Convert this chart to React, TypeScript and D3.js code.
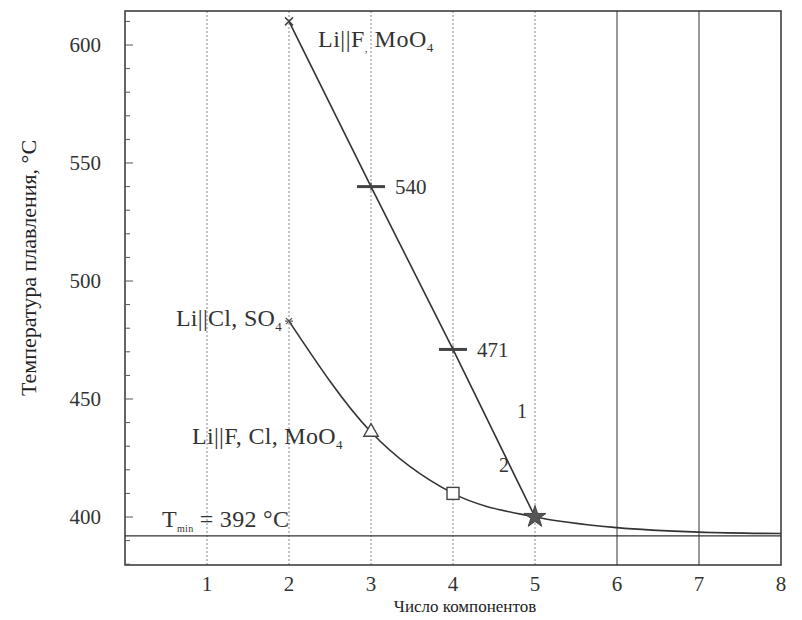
import React from "react";
import * as d3 from "d3";

const xTicks = [1, 2, 3, 4, 5, 6, 7, 8];
const yTicks = [400, 450, 500, 550, 600];
const line1X = [2, 3, 4, 5];
const line1Y = [610, 540, 471, 400];
const line2X = [2, 3, 4, 5, 6, 7, 8];
const line2Y = [483, 436, 410, 400, 395.5, 393.6, 393];
const tMin = 392;

const W = 802, H = 620;
const L = 125, R = 781, T = 11, B = 565;
const x = d3.scaleLinear().domain([0, 8]).range([L, R]);
const y = d3.scaleLinear().domain([400, 600]).range([517, 45]);

const font = "'Liberation Serif', 'Times New Roman', serif";

export default function App() {
  const l1 = d3.line<number>().x((_, i) => x(line1X[i])).y((v) => y(v))(line1Y) || "";
  const l2 = d3
    .line<number>()
    .x((_, i) => x(line2X[i]))
    .y((v) => y(v))
    .curve(d3.curveMonotoneX)(line2Y) || "";
  const minorTicks = d3.range(380, 616, 10);
  const star = d3.symbol().type(d3.symbolStar).size(150)() || "";
  const tri = d3.symbol().type(d3.symbolTriangle).size(90)() || "";
  return (
    <svg width={W} height={H} style={{ display: "block", position: "absolute", left: 0, top: 0 }} fontFamily={font}>
      <rect x={0} y={0} width={W} height={H} fill="#ffffff" />
      {xTicks.slice(0, 5).map((t) => (
        <line key={"g" + t} x1={x(t)} x2={x(t)} y1={T} y2={B} stroke="#888" strokeWidth={1} strokeDasharray="2,2" />
      ))}
      {xTicks.slice(5, 7).map((t) => (
        <line key={"s" + t} x1={x(t)} x2={x(t)} y1={T} y2={B} stroke="#333" strokeWidth={1} />
      ))}
      <line x1={L} x2={R} y1={y(tMin)} y2={y(tMin)} stroke="#333" strokeWidth={1.2} />
      <rect x={L} y={T} width={R - L} height={B - T} fill="none" stroke="#333" strokeWidth={1.5} />
      {minorTicks.map((t) => (
        <line key={"m" + t} x1={L} x2={L + (t % 50 === 0 ? 8 : 5)} y1={y(t)} y2={y(t)} stroke="#555" strokeWidth={1} />
      ))}
      {yTicks.map((t) => (
        <text key={"y" + t} x={L - 24} y={y(t)} dy="0.35em" textAnchor="end" fontSize={21} fill="#333">
          {t}
        </text>
      ))}
      {xTicks.map((t) => (
        <text key={"x" + t} x={x(t)} y={B + 26} textAnchor="middle" fontSize={21} fill="#333">
          {t}
        </text>
      ))}
      <text x={465} y={612} textAnchor="middle" fontSize={17} fill="#222">
        Число компонентов
      </text>
      <text transform={`translate(36,268) rotate(-90)`} textAnchor="middle" fontSize={22} fill="#222">
        Температура плавления, °С
      </text>
      <path d={l1} fill="none" stroke="#333" strokeWidth={1.6} />
      <path d={l2} fill="none" stroke="#333" strokeWidth={1.6} />
      <g stroke="#444" strokeWidth={1.5}>
        <line x1={x(2) - 4} x2={x(2) + 4} y1={y(610) - 4} y2={y(610) + 4} />
        <line x1={x(2) - 4} x2={x(2) + 4} y1={y(610) + 4} y2={y(610) - 4} />
      </g>
      {[1, 2].map((i) => (
        <g key={"p" + i} stroke="#444">
          <line x1={x(line1X[i]) - 14} x2={x(line1X[i]) + 14} y1={y(line1Y[i])} y2={y(line1Y[i])} strokeWidth={3} />
          <line x1={x(line1X[i])} x2={x(line1X[i])} y1={y(line1Y[i]) - 4} y2={y(line1Y[i]) + 4} strokeWidth={1.2} />
        </g>
      ))}
      <text x={x(3) + 24} y={y(540)} dy="0.35em" fontSize={21} fill="#333">540</text>
      <text x={x(4) + 24} y={y(471)} dy="0.35em" fontSize={21} fill="#333">471</text>
      <g stroke="#555" strokeWidth={1.2}>
        <line x1={x(2) - 3} x2={x(2) + 3} y1={y(483) - 3} y2={y(483) + 3} />
        <line x1={x(2) - 3} x2={x(2) + 3} y1={y(483) + 3} y2={y(483) - 3} />
        <line x1={x(2) - 4} x2={x(2) + 4} y1={y(483)} y2={y(483)} />
      </g>
      <path d={tri} transform={`translate(${x(3)},${y(436)})`} fill="#fff" stroke="#444" strokeWidth={1.4} />
      <rect x={x(4) - 6} y={y(410) - 6} width={12} height={12} fill="#fff" stroke="#444" strokeWidth={1.4} />
      <path d={star} transform={`translate(${x(5)},${y(400)})`} fill="#555" stroke="#444" strokeWidth={1} />
      <text x={318} y={47} fontSize={24} fill="#333" letterSpacing={0.5}>
        Li||F<tspan fontSize={11} dy={5}>,</tspan><tspan dy={-5}> MoO</tspan><tspan fontSize={13} dy={5}>4</tspan>
      </text>
      <text x={x(2) - 7} y={326} textAnchor="end" fontSize={24} fill="#333" letterSpacing={0.3}>
        Li||Cl, SO<tspan fontSize={13} dy={5}>4</tspan>
      </text>
      <text x={192} y={444} fontSize={24} fill="#333" letterSpacing={0.3}>
        Li||F, Cl,  MoO<tspan fontSize={13} dy={5}>4</tspan>
      </text>
      <text x={517} y={418} fontSize={20} fill="#333">1</text>
      <text x={499} y={472} fontSize={20} fill="#333">2</text>
      <text x={162} y={527} fontSize={24} fill="#333" letterSpacing={0.3}>
        T<tspan fontSize={10} dy={5}>min</tspan><tspan dy={-5}> = 392 °C</tspan>
      </text>
    </svg>
  );
}
